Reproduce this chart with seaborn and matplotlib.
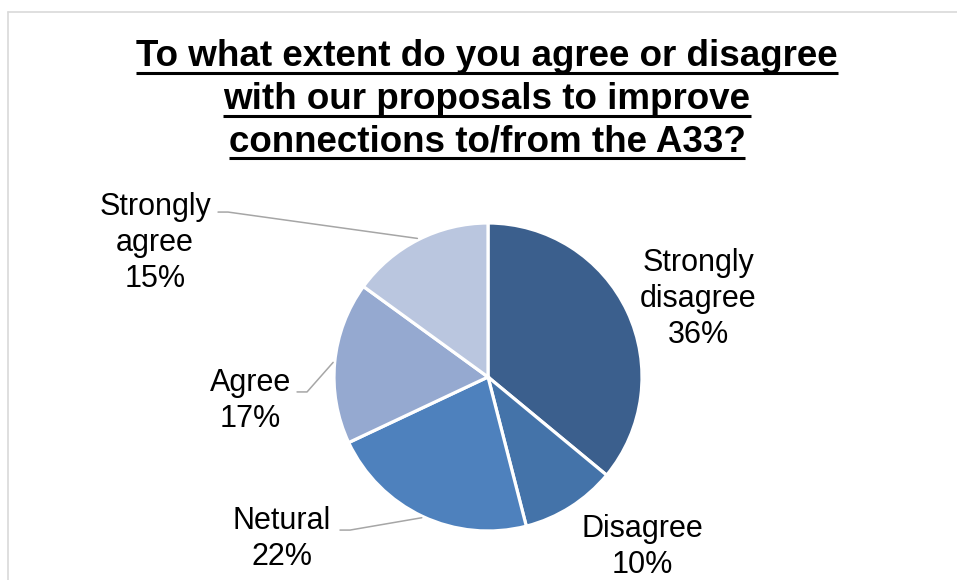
import matplotlib
matplotlib.use("Agg")
import matplotlib.pyplot as plt
import numpy as np
import seaborn as sns
from matplotlib.lines import Line2D

# ---- data ----
categories = ["Strongly disagree", "Disagree", "Netural", "Agree", "Strongly agree"]
values = [36, 10, 22, 17, 15]
label_lines = [["Strongly", "disagree"], ["Disagree"], ["Netural"], ["Agree"], ["Strongly", "agree"]]
title_lines = ["To what extent do you agree or disagree",
               "with our proposals to improve",
               "connections to/from the A33?"]

# ---- style ----
colors = sns.color_palette(["#3B5F8D", "#4473A9", "#4E81BD", "#95A9D0", "#BAC6DF"])
sns.set_theme(style="white")
plt.rcParams['font.family'] = ['Liberation Sans', 'DejaVu Sans']

W, H = 957, 580
CX, CY, R = 488, 377, 154  # pie centre / radius in pixels

fig = plt.figure(figsize=(W / 100, H / 100), dpi=100)
ax = fig.add_axes([0, 0, 1, 1])

wedges, _ = ax.pie(values, startangle=90, counterclock=False, colors=colors,
                   radius=1, center=(0, 0),
                   wedgeprops=dict(edgecolor="white", linewidth=2.3))

ax.set_xlim(-CX / R, (W - CX) / R)
ax.set_ylim((CY - H) / R, CY / R)
ax.set_aspect("auto")
ax.axis("off")

# ---- labels (layout: first-line baseline in pie units, leader line start) ----
label_pos = [(1.364, 0.688), (1.0, -1.039), (-1.338, -0.987), (-1.545, -0.091), (-2.162, 1.052)]
leader_start = [None, None, (-0.961, -0.994), (-1.240, -0.097), (-1.753, 1.071)]
step = 36 / R
fs = 22
for i, (cat, v) in enumerate(zip(categories, values)):
    lines = label_lines[i] + [f"{v}%"]
    x, y = label_pos[i]
    for k, ln in enumerate(lines):
        ax.text(x, y - k * step, ln, ha="center", va="baseline", fontsize=fs, color="black")
    if leader_start[i] is not None:
        w = wedges[i]
        mid = np.deg2rad((w.theta1 + w.theta2) / 2)
        ex, ey = np.cos(mid) * 1.01, np.sin(mid) * 1.01
        sx, sy = leader_start[i]
        kx = sx + 10 / R
        ax.add_line(Line2D([sx, kx, ex], [sy, sy, ey], color="#A6A6A6", lw=1.1))

# ---- title with underline ----
title_base = [66, 109, 151]
fig.canvas.draw()
renderer = fig.canvas.get_renderer()
for ln, py in zip(title_lines, title_base):
    t = fig.text(487 / W, 1 - py / H, ln, ha="center", va="baseline",
                 fontsize=26.5, fontweight="bold", color="black")
    bb = t.get_window_extent(renderer)
    uy = 1 - (py + 7) / H
    fig.add_artist(Line2D([bb.x0 / W, bb.x1 / W], [uy, uy], transform=fig.transFigure,
                          color="black", lw=2.2, solid_capstyle="butt"))

# ---- chart frame (partially visible) ----
fig.add_artist(Line2D([8 / W, 8 / W], [-0.1, 1 - 12 / H], transform=fig.transFigure,
                      color="#D9D9D9", lw=1.2))
fig.add_artist(Line2D([8 / W, 1.1], [1 - 12 / H, 1 - 12 / H], transform=fig.transFigure,
                      color="#D9D9D9", lw=1.2))

fig.savefig("out.png", dpi=100, facecolor="white")
